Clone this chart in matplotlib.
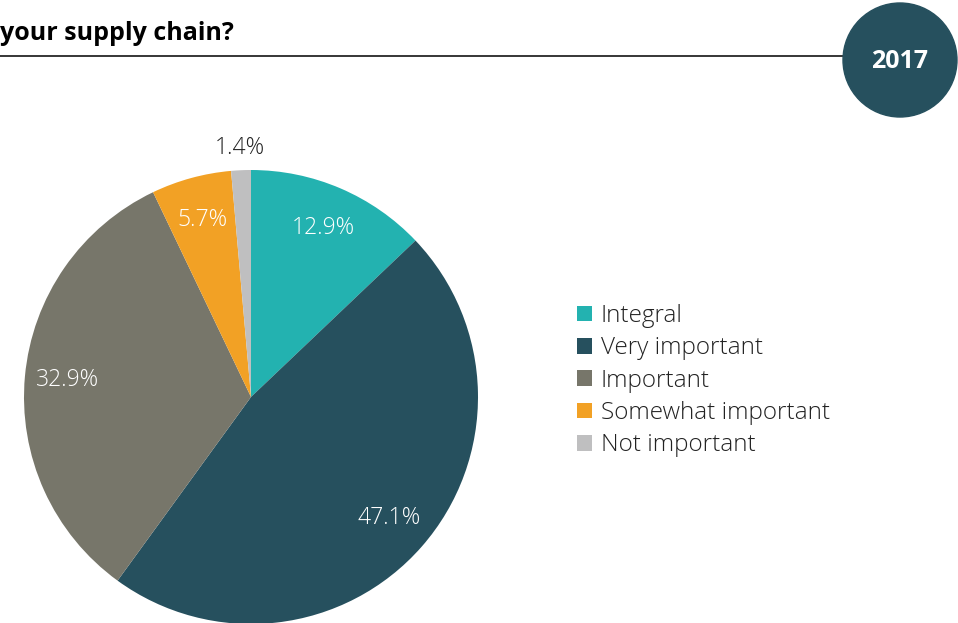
import numpy as np
import matplotlib.pyplot as plt
from matplotlib.patches import Ellipse
from matplotlib.lines import Line2D

# data
categories = ['Integral', 'Very important', 'Important', 'Somewhat important', 'Not important']
shares = [12.9, 47.1, 32.9, 5.7, 1.4]
colors = ['#23b2b0', '#26505e', '#77766a', '#f2a125', '#bfbfc0']
title = 'your supply chain?'
year = '2017'

plt.rcParams['font.family'] = ['Open Sans', 'DejaVu Sans']

W, H = 958, 623
fig = plt.figure(figsize=(W / 100, H / 100), dpi=100)

# pie axes: centre (251, 397) px, radius 227 px
cx, cy, r = 251, 397, 227
ax = fig.add_axes([(cx - r) / W, (H - cy - r) / H, 2 * r / W, 2 * r / H])
wedges, texts, autotexts = ax.pie(
    shares, colors=colors, startangle=90, counterclock=False,
    autopct='%.1f%%', pctdistance=0.81,
    textprops=dict(color='white', fontsize=16.5, fontweight='light'))
ax.set_xlim(-1, 1)
ax.set_ylim(-1, 1)
ax.set_aspect('equal')

# small slice label sits outside in dark text
w, t = wedges[-1], autotexts[-1]
ang = np.deg2rad((w.theta1 + w.theta2) / 2)
t.set_position((1.1 * np.cos(ang), 1.1 * np.sin(ang)))
t.set_color('#222222')

leg = fig.legend(wedges, categories, loc='upper left',
                 bbox_to_anchor=(565 / W, 1 - 292 / H), frameon=False,
                 fontsize=17.5, handlelength=0.62, handleheight=0.62,
                 handletextpad=0.36, labelspacing=0.34, borderpad=0)
for txt in leg.get_texts():
    txt.set_color('#222222')
    txt.set_fontweight('light')

# header
fig.text(0, 1 - 33 / H, title, fontsize=18, fontweight='bold', va='center', ha='left')
fig.add_artist(Line2D([0, 850 / W], [1 - 56 / H, 1 - 56 / H], color='black', lw=1.1,
                      transform=fig.transFigure))
fig.add_artist(Ellipse((900 / W, 1 - 60 / H), 114 / W, 114 / H, transform=fig.transFigure,
                       color='#26505e', zorder=3))
fig.text(900 / W, 1 - 61 / H, year, fontsize=18, fontweight='bold', color='white',
         ha='center', va='center', zorder=4)

fig.savefig('out.png', dpi=100)
